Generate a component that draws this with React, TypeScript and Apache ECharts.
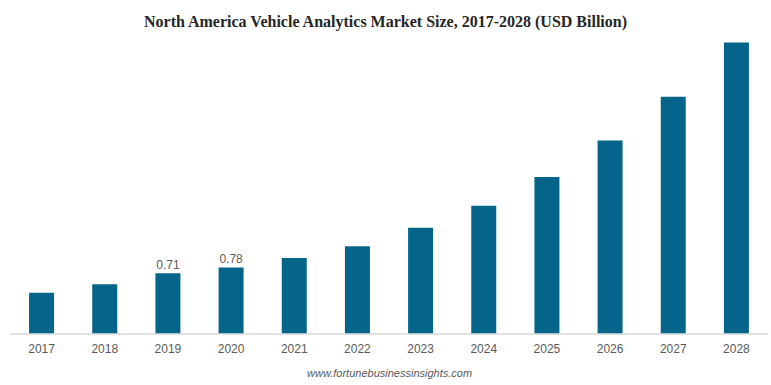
import React, { useEffect, useRef } from "react";
import * as echarts from "echarts";

const years = ["2017", "2018", "2019", "2020", "2021", "2022", "2023", "2024", "2025", "2026", "2027", "2028"];
const values = [0.48, 0.58, 0.71, 0.78, 0.89, 1.03, 1.25, 1.51, 1.85, 2.28, 2.8, 3.44];
const labeledYears = ["2019", "2020"];

export default function App() {
  const ref = useRef<HTMLDivElement>(null);
  useEffect(() => {
    if (!ref.current) return;
    const chart = echarts.init(ref.current, null, { renderer: "svg" });
    chart.setOption({
      animation: false,
      title: {
        text: "North America Vehicle Analytics Market Size, 2017-2028 (USD Billion)",
        left: "center",
        top: 8,
        textStyle: {
          fontFamily: "Liberation Serif",
          fontWeight: "bold",
          fontSize: 16,
          color: "#262626",
        },
      },
      graphic: [
        {
          type: "text",
          left: 307,
          top: 367,
          style: {
            text: "www.fortunebusinessinsights.com",
            font: "italic 11px 'Liberation Sans'",
            fill: "#595959",
          },
        },
      ],
      grid: { left: 10, right: 3, top: 37.5, bottom: 51.7, containLabel: false },
      xAxis: {
        type: "category",
        data: years,
        axisLine: { lineStyle: { color: "#d9d9d9", width: 1.5 } },
        axisTick: { show: false },
        axisLabel: {
          color: "#595959",
          fontSize: 12,
          fontFamily: "Liberation Sans",
          margin: 10,
        },
      },
      yAxis: {
        type: "value",
        min: 0,
        max: 3.5,
        show: false,
        splitLine: { show: false },
      },
      series: [
        {
          type: "bar",
          data: values.map((v, i) => ({
            value: v,
            label: {
              show: labeledYears.includes(years[i]),
              position: "top",
              distance: 2,
              color: "#595959",
              fontSize: 12,
              fontFamily: "Liberation Sans",
            },
          })),
          barWidth: 25,
          itemStyle: { color: "#05648A" },
        },
      ],
    });
    return () => chart.dispose();
  }, []);
  return <div ref={ref} style={{ width: 771, height: 385, position: "absolute", left: 0, top: 0 }} />;
}
